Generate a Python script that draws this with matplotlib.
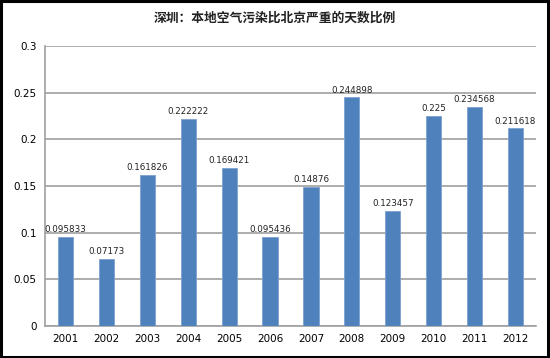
import matplotlib
matplotlib.use("Agg")
import matplotlib.pyplot as plt
from matplotlib.patches import Rectangle

plt.rcParams['font.family'] = ['Noto Sans CJK SC', 'DejaVu Sans']

years = ['2001', '2002', '2003', '2004', '2005', '2006',
         '2007', '2008', '2009', '2010', '2011', '2012']
values = [0.095833, 0.07173, 0.161826, 0.222222, 0.169421, 0.095436,
          0.14876, 0.244898, 0.123457, 0.225, 0.234568, 0.211618]
labels = ['0.095833', '0.07173', '0.161826', '0.222222', '0.169421', '0.095436',
          '0.14876', '0.244898', '0.123457', '0.225', '0.234568', '0.211618']
yticks = [0, 0.05, 0.1, 0.15, 0.2, 0.25, 0.3]
yticklabels = ['0', '0.05', '0.1', '0.15', '0.2', '0.25', '0.3']
title = '深圳：本地空气污染比北京严重的天数比例'

fig = plt.figure(figsize=(5.5, 3.58), dpi=100)
ax = fig.add_axes([45/550, 32/358, 491/550, 280/358])

x = list(range(len(years)))
bars = ax.bar(x, values, width=0.37, color='#4f81bd', edgecolor='#7ba0d0', linewidth=0.6, zorder=3)
for xi, v, lab in zip(x, values, labels):
    ax.text(xi, v + 0.003, lab, ha='center', va='bottom', fontsize=6.3,
            family='DejaVu Sans', color='#222222', zorder=4)

ax.set_xlim(-0.5, len(years) - 0.5)
ax.set_ylim(0, 0.3)
ax.set_yticks(yticks)
ax.set_yticklabels(yticklabels, fontsize=7.5, family='DejaVu Sans')
ax.set_xticks(x)
ax.set_xticklabels(years, fontsize=7.5, family='DejaVu Sans')
ax.tick_params(axis='both', length=0, pad=6)
ax.tick_params(axis='x', pad=6)
ax.grid(axis='y', color='#a0a0a0', linewidth=1.2, zorder=0)
for s in ['top', 'right']:
    ax.spines[s].set_visible(False)
for s in ['left', 'bottom']:
    ax.spines[s].set_color('#a0a0a0')
    ax.spines[s].set_linewidth(1.2)

fig.text(275/550, 1 - 18/358, title, ha='center', va='center',
         fontsize=9.2, fontweight='bold', color='#222222')

fig.patches.append(Rectangle((1/550, 1/358), 547/550, 356/358, transform=fig.transFigure,
                             fill=False, edgecolor='black', linewidth=2.2))

fig.savefig('out.png', dpi=100)
